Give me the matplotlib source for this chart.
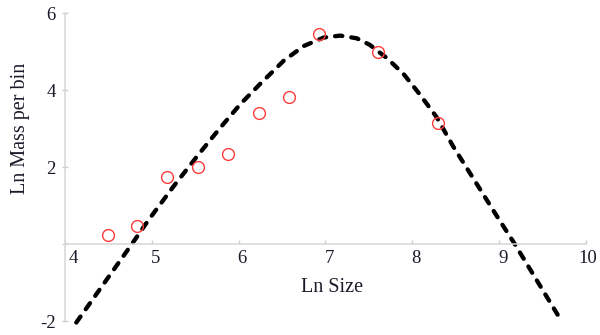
import matplotlib
matplotlib.use("Agg")
import matplotlib.pyplot as plt
import matplotlib.transforms as mtransforms

plt.rcParams['font.family'] = ['Liberation Serif', 'DejaVu Serif']

# Observed bins (Ln Size, Ln Mass per bin)
obs_x = [4.49, 4.83, 5.18, 5.53, 5.88, 6.23, 6.58, 6.92, 7.60, 8.30]
obs_y = [0.24, 0.475, 1.75, 2.01, 2.33, 3.41, 3.83, 5.47, 5.00, 3.16]

# Fitted curve
fit_x = [4.13, 4.45, 4.77, 4.96, 5.25, 5.52, 5.79, 6.02, 6.25, 6.52, 6.75, 6.98,
         7.17, 7.36, 7.51, 7.71, 7.90, 8.09, 8.28, 8.47, 8.74, 8.97, 9.18, 9.43, 9.72]
fit_y = [-2.04, -1.02, 0.0, 0.62, 1.50, 2.28, 3.03, 3.64, 4.17, 4.77, 5.15, 5.37,
         5.42, 5.35, 5.18, 4.83, 4.42, 3.88, 3.30, 2.54, 1.57, 0.74, 0.0, -0.93, -2.01]

x_ticks = [4, 5, 6, 7, 8, 9, 10]
y_ticks = [-2, 0, 2, 4, 6]
y_tick_labels = ['-2', '', '2', '4', '6']

fig = plt.figure(figsize=(6.0, 3.35), dpi=100)
ax = fig.add_axes([65/600, 1-321/335, (586-65)/600, (321-13.3)/335])

ax.plot(fit_x, fit_y, color='black', lw=3.1, dashes=(1.7, 2.1),
        dash_capstyle='round', solid_capstyle='round', zorder=2, clip_on=False)
ax.plot(obs_x, obs_y, linestyle='none', marker='o', ms=8.5, mfc='none',
        mec='#ff3c3c', mew=1.0, zorder=3, clip_on=False)

ax.set_xlim(4, 10)
ax.set_ylim(-2, 6)

for s in ['top', 'right']:
    ax.spines[s].set_visible(False)
ax.spines['bottom'].set_position(('data', 0))
for s in ['left', 'bottom']:
    ax.spines[s].set_color('#d6d6d6')
    ax.spines[s].set_linewidth(1.1)

ax.set_xticks(x_ticks)
ax.set_xticklabels([str(t) for t in x_ticks])
ax.set_yticks(y_ticks)
ax.set_yticklabels(y_tick_labels)

ax.tick_params(axis='x', direction='in', length=3, width=1, color='#cfcfcf',
               labelsize=13.5, labelcolor='#1a1a2a', pad=4)
ax.tick_params(axis='y', direction='inout', length=5, width=1, color='#cfcfcf',
               labelsize=13.5, labelcolor='#1a1a2a', pad=4)

for lbl in ax.get_xticklabels():
    txt = lbl.get_text()
    if txt == '10':
        lbl.set_horizontalalignment('center')
        dx = 2
    elif txt == '4':
        lbl.set_horizontalalignment('left')
        dx = 4
    else:
        lbl.set_horizontalalignment('left')
        dx = -1
    lbl.set_transform(lbl.get_transform() +
                      mtransforms.ScaledTranslation(dx/100, 0, fig.dpi_scale_trans))

fig.text(332/600, 1-288/335, 'Ln Size', ha='center', va='center', fontsize=14.5, color='#1a1a2a')
fig.text(21/600, 1-128/335, 'Ln Mass per bin', ha='center', va='center', rotation=90,
         fontsize=14.5, color='#1a1a2a')

fig.savefig('out.png', dpi=100, facecolor='white')
